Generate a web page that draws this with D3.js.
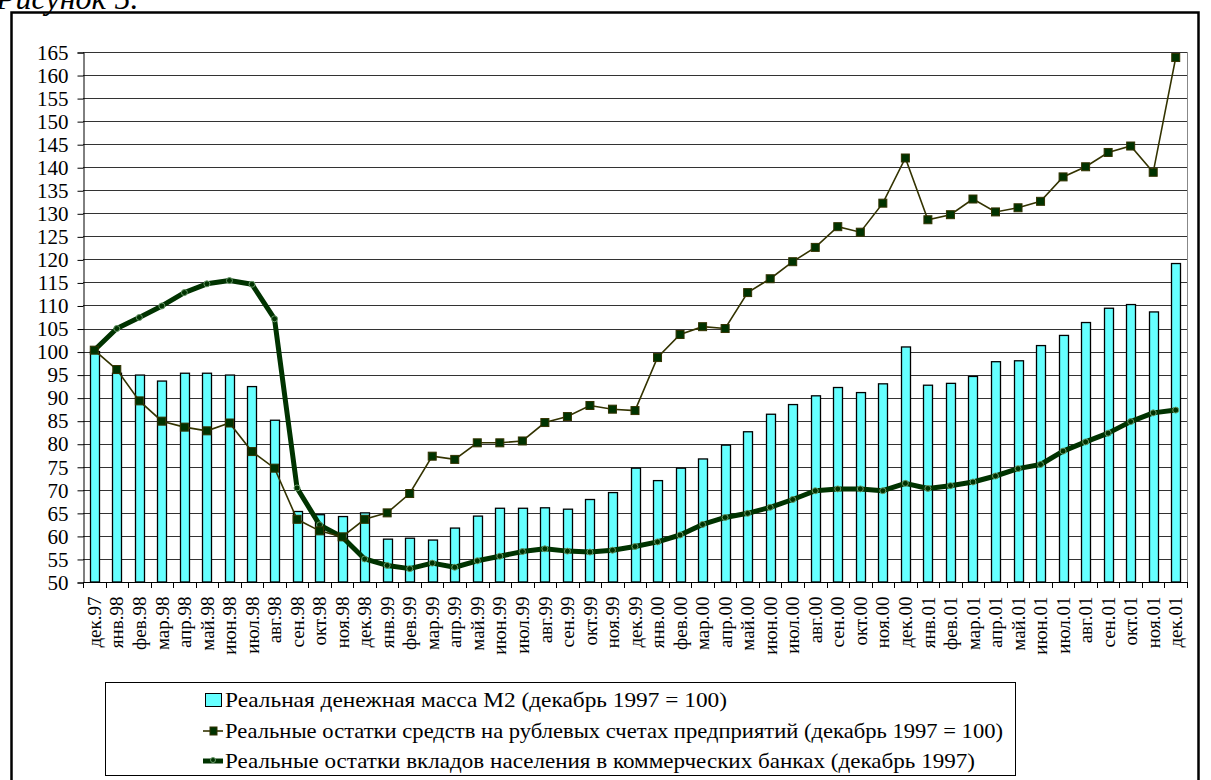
<!DOCTYPE html>
<html>
<head>
<meta charset="utf-8">
<script src="https://cdn.jsdelivr.net/npm/d3@7"></script>
<style>
  body { margin: 0; background: #fff; }
</style>
</head>
<body>
<script>
// Categories (months)
var months = ["дек.97","янв.98","фев.98","мар.98","апр.98","май.98","июн.98","июл.98","авг.98","сен.98","окт.98","ноя.98",
  "дек.98","янв.99","фев.99","мар.99","апр.99","май.99","июн.99","июл.99","авг.99","сен.99","окт.99","ноя.99",
  "дек.99","янв.00","фев.00","мар.00","апр.00","май.00","июн.00","июл.00","авг.00","сен.00","окт.00","ноя.00",
  "дек.00","янв.01","фев.01","мар.01","апр.01","май.01","июн.01","июл.01","авг.01","сен.01","окт.01","ноя.01","дек.01"];

// Реальная денежная масса М2
var m2 = [100, 95.3, 94.9, 93.6, 95.3, 95.3, 94.9, 92.4, 85.1, 65.3, 64.6, 64.2,
  65.0, 59.3, 59.5, 59.1, 61.7, 64.3, 66.0, 66.0, 66.1, 65.8, 67.9, 69.4,
  74.7, 72.0, 74.7, 76.7, 79.7, 82.6, 86.4, 88.5, 90.4, 92.2, 91.1, 93.0,
  101.0, 92.7, 93.1, 94.6, 97.8, 98.0, 101.3, 103.5, 106.3, 109.4, 110.2, 108.6, 119.1];

// Реальные остатки средств на рублевых счетах предприятий
var firms = [100.3, 96.1, 89.3, 84.9, 83.6, 82.8, 84.5, 78.3, 74.7, 63.6, 61.1, 59.8,
  63.6, 65.0, 69.2, 77.3, 76.6, 80.2, 80.2, 80.6, 84.6, 85.9, 88.3, 87.5,
  87.2, 98.7, 103.7, 105.4, 105.0, 112.8, 115.8, 119.5, 122.6, 127.1, 125.9, 132.2,
  142.0, 128.6, 129.7, 133.1, 130.3, 131.2, 132.6, 137.9, 140.1, 143.2, 144.6, 138.9, 163.8];

// Реальные остатки вкладов населения
var deposits = [100.3, 105.0, 107.4, 109.9, 112.8, 114.7, 115.4, 114.6, 107.1, 70.4, 62.4, 59.8,
  55.0, 53.6, 52.9, 54.1, 53.2, 54.6, 55.6, 56.6, 57.2, 56.7, 56.5, 56.9,
  57.7, 58.7, 60.2, 62.5, 64.0, 64.9, 66.2, 67.9, 69.8, 70.2, 70.2, 69.8,
  71.4, 70.3, 70.9, 71.7, 73.0, 74.6, 75.5, 78.4, 80.4, 82.3, 84.8, 86.7, 87.3];

var yTicks = [50, 55, 60, 65, 70, 75, 80, 85, 90, 95, 100, 105, 110, 115, 120, 125, 130, 135, 140, 145, 150, 155, 160, 165];

var legendNames = ["Реальная денежная масса М2 (декабрь 1997 = 100)",
  "Реальные остатки средств на рублевых счетах предприятий (декабрь 1997 = 100)",
  "Реальные остатки вкладов населения в коммерческих банках (декабрь 1997)"];

var FONT = "'Liberation Serif'";
var W = 1211, H = 780;
var plot = {left: 83, right: 1187, top: 52, bottom: 582};

var svg = d3.select("body").append("svg")
  .attr("width", W)
  .attr("height", H);

// caption, cut by the top edge as in the scan
svg.append("text")
  .attr("x", -4)
  .attr("y", 9)
  .style("font-family", FONT)
  .style("font-size", "32px")
  .style("font-style", "italic")
  .text("Рисунок 5.");

// outer frame
svg.append("rect")
  .attr("x", 11.5).attr("y", 12.5)
  .attr("width", 1187).attr("height", 820)
  .attr("fill", "none")
  .attr("stroke", "#000")
  .attr("stroke-width", 2.5);

var x = d3.scaleBand()
  .domain(months)
  .range([plot.left, plot.right]);

var y = d3.scaleLinear()
  .domain([50, 165])
  .range([plot.bottom, plot.top]);

// gridlines
svg.append("g")
  .selectAll("line")
  .data(yTicks)
  .enter().append("line")
  .attr("x1", plot.left).attr("x2", plot.right)
  .attr("y1", function(d) { return Math.round(y(d)) + 0.5; })
  .attr("y2", function(d) { return Math.round(y(d)) + 0.5; })
  .attr("stroke", "#333")
  .attr("stroke-width", 1);

// plot area border (right side gray)
svg.append("line")
  .attr("x1", plot.right + 0.5).attr("x2", plot.right + 0.5)
  .attr("y1", plot.top).attr("y2", plot.bottom)
  .attr("stroke", "#888");

// y axis
var yAxis = svg.append("g")
  .attr("transform", "translate(" + (plot.left + 0.5) + ",0.5)")
  .call(d3.axisLeft(y).tickValues(yTicks).tickSize(6).tickPadding(9).tickFormat(d3.format("d")));
yAxis.select(".domain").attr("stroke", "#000");
yAxis.selectAll("line").attr("stroke", "#000");
yAxis.selectAll("text")
  .style("font-family", FONT)
  .style("font-size", "21px")
  .attr("fill", "#000");

// bars
var bw = 9;
svg.append("g")
  .selectAll("rect")
  .data(m2)
  .enter().append("rect")
  .attr("x", function(d, i) { return Math.round(x(months[i]) + x.bandwidth() / 2 - bw / 2) + 0.5; })
  .attr("y", function(d) { return y(d); })
  .attr("width", bw)
  .attr("height", function(d) { return y(50) - y(d); })
  .attr("fill", "#66FFFF")
  .attr("stroke", "#000")
  .attr("stroke-width", 1.3);

// x axis line + labels
var xAxis = svg.append("g")
  .attr("transform", "translate(0," + (plot.bottom + 0.5) + ")")
  .call(d3.axisBottom(x).tickSize(0).tickPadding(0));
xAxis.select(".domain").attr("stroke", "#000").attr("d", "M" + plot.left + ",0H" + plot.right);
xAxis.selectAll("text")
  .style("font-family", FONT)
  .style("font-size", "19px")
  .attr("fill", "#000")
  .attr("text-anchor", "end")
  .attr("transform", "translate(0,14) rotate(-90)")
  .attr("dy", "0.35em")
  .attr("x", 0)
  .attr("y", 0);

// ticks between categories
svg.append("g")
  .selectAll("line")
  .data(months.concat(["end"]))
  .enter().append("line")
  .attr("x1", function(d, i) { return Math.round(plot.left + i * x.step()) + 0.5; })
  .attr("x2", function(d, i) { return Math.round(plot.left + i * x.step()) + 0.5; })
  .attr("y1", plot.bottom)
  .attr("y2", plot.bottom + 6)
  .attr("stroke", "#000");

var cx = function(d, i) { return x(months[i]) + x.bandwidth() / 2; };

var line = d3.line()
  .x(cx)
  .y(function(d) { return y(d); });

// deposits line (thick)
svg.append("path")
  .datum(deposits)
  .attr("d", line)
  .attr("fill", "none")
  .attr("stroke", "#003300")
  .attr("stroke-width", 5)
  .attr("stroke-linejoin", "round");

svg.append("g")
  .selectAll("circle")
  .data(deposits)
  .enter().append("circle")
  .attr("cx", cx)
  .attr("cy", function(d) { return y(d); })
  .attr("r", 3)
  .attr("fill", "#003300")
  .attr("stroke", "#6a9a6a")
  .attr("stroke-width", 1);

// firms line (thin, squares)
svg.append("path")
  .datum(firms)
  .attr("d", line)
  .attr("fill", "none")
  .attr("stroke", "#333300")
  .attr("stroke-width", 1.6);

svg.append("g")
  .selectAll("rect")
  .data(firms)
  .enter().append("rect")
  .attr("x", function(d, i) { return cx(d, i) - 4; })
  .attr("y", function(d) { return y(d) - 4; })
  .attr("width", 8)
  .attr("height", 8)
  .attr("fill", "#003300")
  .attr("stroke", "#333300")
  .attr("stroke-width", 1);

// legend
var lg = svg.append("g");
lg.append("rect")
  .attr("x", 105.5).attr("y", 682.5)
  .attr("width", 910).attr("height", 93)
  .attr("fill", "#fff")
  .attr("stroke", "#000");

var rowY = [700, 731, 761];
var textW = [502, 778, 750];

lg.append("rect")
  .attr("x", 205.5).attr("y", rowY[0] - 6.5)
  .attr("width", 16).attr("height", 13)
  .attr("fill", "#66FFFF").attr("stroke", "#000");

lg.append("line")
  .attr("x1", 203).attr("x2", 223)
  .attr("y1", rowY[1]).attr("y2", rowY[1])
  .attr("stroke", "#333300").attr("stroke-width", 1.6);
lg.append("rect")
  .attr("x", 210).attr("y", rowY[1] - 4)
  .attr("width", 7).attr("height", 8)
  .attr("fill", "#003300").attr("stroke", "#333300");

lg.append("line")
  .attr("x1", 203).attr("x2", 223)
  .attr("y1", rowY[2]).attr("y2", rowY[2])
  .attr("stroke", "#003300").attr("stroke-width", 5);
lg.append("circle")
  .attr("cx", 213).attr("cy", rowY[2] - 1)
  .attr("r", 2.5)
  .attr("fill", "#003300").attr("stroke", "#6a9a6a");

lg.selectAll("text.lbl")
  .data(legendNames)
  .enter().append("text")
  .attr("class", "lbl")
  .attr("x", 225)
  .attr("y", function(d, i) { return rowY[i] + 7; })
  .style("font-family", FONT)
  .style("font-size", "21px")
  .attr("textLength", function(d, i) { return textW[i]; })
  .attr("lengthAdjust", "spacingAndGlyphs")
  .text(function(d) { return d; });
</script>
</body>
</html>
